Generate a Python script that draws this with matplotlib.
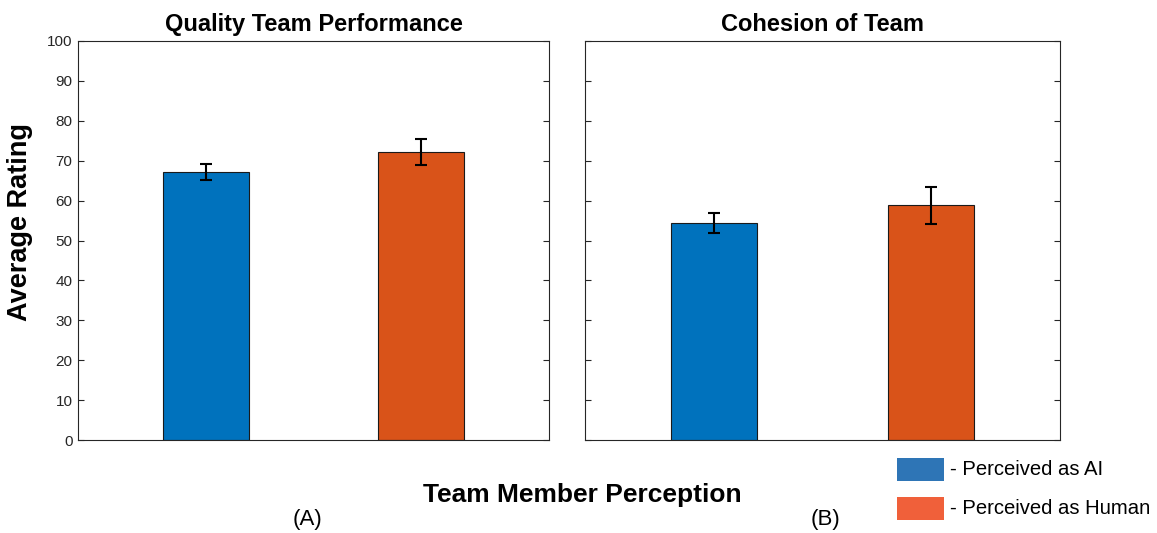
import matplotlib
matplotlib.use("Agg")
import matplotlib.pyplot as plt
from matplotlib.patches import Rectangle
import numpy as np

plt.rcParams['font.family'] = ['Liberation Sans', 'DejaVu Sans']

# mean ratings and standard errors
groups = ["Perceived as AI", "Perceived as Human"]
panel_titles = ["Quality Team Performance", "Cohesion of Team"]
panel_tags = ["(A)", "(B)"]
quality_mean = [67.2, 72.2]
quality_err = [2.0, 3.3]
cohesion_mean = [54.4, 58.8]
cohesion_err = [2.5, 4.6]

bar_colors = ["#0072BD", "#D95319"]
legend_colors = ["#2E75B6", "#F0603A"]
axis_col = "#262626"

fig = plt.figure(figsize=(11.57, 5.33), dpi=100)
W, H = 1157, 533

def px_axes(x0, y0, x1, y1):
    return fig.add_axes([x0 / W, 1 - y1 / H, (x1 - x0) / W, (y1 - y0) / H])

ax1 = px_axes(78, 41, 549, 440)
ax2 = px_axes(585, 41, 1060, 440)

xpos = np.array([1, 2])
for ax, means, errs, title in [(ax1, quality_mean, quality_err, panel_titles[0]),
                               (ax2, cohesion_mean, cohesion_err, panel_titles[1])]:
    ax.bar(xpos, means, width=0.4, color=bar_colors, edgecolor="#1a1a1a", linewidth=0.8, zorder=2)
    ax.errorbar(xpos, means, yerr=errs, fmt="none", ecolor="black", elinewidth=1.5,
                capsize=4, capthick=1.5, zorder=3)
    ax.set_xlim(0.405, 2.595)
    ax.set_ylim(0, 100)
    ax.set_yticks(np.arange(0, 101, 10))
    ax.set_xticks([])
    ax.tick_params(axis="y", direction="in", length=4, width=0.8, colors=axis_col,
                   labelsize=11, right=True, pad=4)
    for s in ax.spines.values():
        s.set_color(axis_col)
        s.set_linewidth(0.8)
    ax.set_title(title, fontsize=17, fontweight="bold", pad=7)

ax2.tick_params(axis="y", labelleft=False)
ax1.set_ylabel("Average Rating", fontsize=19.5, fontweight="bold")
ax1.yaxis.set_label_coords(-(78 - 33) / 471, (440 - 222) / 399)

fig.text(582 / W, 1 - 495 / H, "Team Member Perception", fontsize=19, fontweight="bold",
         ha="center", va="center")
fig.text(307 / W, 1 - 520 / H, panel_tags[0], fontsize=16, ha="center", va="center")
fig.text(825 / W, 1 - 520 / H, panel_tags[1], fontsize=16, ha="center", va="center")

# legend boxes drawn in figure pixels
for i, (lab, col) in enumerate(zip(groups, legend_colors)):
    y_top = 458 + i * 39
    fig.patches.append(Rectangle((897 / W, 1 - (y_top + 23) / H), 47 / W, 23 / H,
                                 transform=fig.transFigure, facecolor=col, edgecolor="none"))
    fig.text(950 / W, 1 - (y_top + 11.5) / H, "- " + lab, fontsize=14.6, ha="left", va="center")

fig.savefig("out.png", dpi=100)
